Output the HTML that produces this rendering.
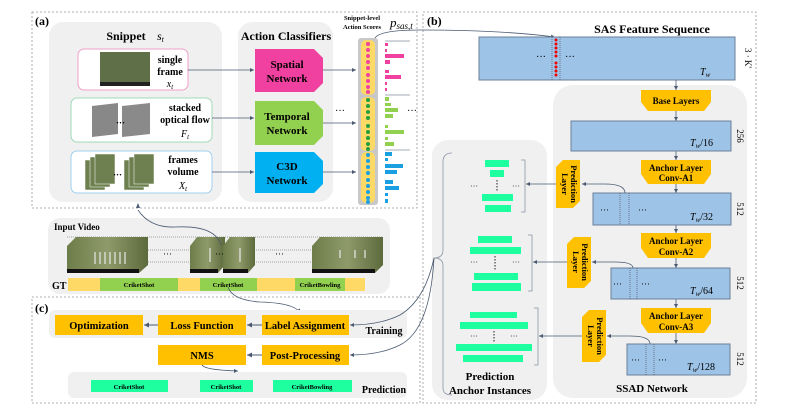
<!DOCTYPE html>
<html><head><meta charset="utf-8"><style>
html,body{margin:0;padding:0;background:#fff;}
svg{display:block;font-family:"Liberation Serif",serif;}
.b{font-weight:bold;}
</style></head><body>
<svg width="790" height="412" viewBox="0 0 790 412" xmlns="http://www.w3.org/2000/svg">
<defs>
<marker id="ar" markerWidth="6" markerHeight="6" refX="5" refY="3" orient="auto"><path d="M0,0.5 L5,3 L0,5.5 z" fill="#4a5a70"/></marker>
<linearGradient id="film" x1="0" y1="0" x2="1" y2="0"><stop offset="0" stop-color="#6d7d4a"/><stop offset="0.5" stop-color="#8f9a6a"/><stop offset="1" stop-color="#5d6a3c"/></linearGradient>
</defs>
<!-- dashed frames -->
<rect x="32" y="12" width="385" height="196" fill="none" stroke="#999" stroke-dasharray="2,2" stroke-width="0.8"/>
<rect x="423" y="12" width="333" height="391" fill="none" stroke="#999" stroke-dasharray="2,2" stroke-width="0.8"/>
<rect x="32" y="297" width="388" height="106" fill="none" stroke="#999" stroke-dasharray="2,2" stroke-width="0.8"/>
<text x="35" y="25" class="b" font-size="12">(a)</text>
<text x="427" y="25" class="b" font-size="12">(b)</text>
<text x="35" y="312" class="b" font-size="12">(c)</text>

<!-- panel a -->
<rect x="49" y="22" width="173" height="180" rx="14" fill="#f0f0f0"/>
<rect x="238" y="22" width="95" height="180" rx="14" fill="#f0f0f0"/>
<text x="126" y="40" class="b" font-size="12" text-anchor="middle">Snippet</text>
<text x="157" y="40" font-size="12" font-style="italic">s<tspan font-size="8" dy="2">t</tspan></text>
<text x="286" y="40" class="b" font-size="12" text-anchor="middle">Action Classifiers</text>

<rect x="78" y="49" width="110" height="41" rx="6" fill="#fff" stroke="#f0a0c8"/>
<rect x="100" y="52" width="50" height="34" fill="#5f7048"/><rect x="100" y="82" width="50" height="4" fill="#222"/>
<text x="170" y="63" class="b" font-size="10" text-anchor="middle">single</text>
<text x="170" y="75" class="b" font-size="10" text-anchor="middle">frame</text>
<text x="170" y="87" font-size="10" font-style="italic" text-anchor="middle">x<tspan font-size="7" dy="2">t</tspan></text>

<rect x="71" y="98" width="141" height="44" rx="6" fill="#fff" stroke="#9fd8b8"/>
<polygon points="92,106 118,103 118,134 92,137" fill="#888"/>
<polygon points="122,106 150,103 150,134 122,137" fill="#8a8a8a"/>
<text x="116" y="126" class="b" font-size="9">···</text>
<text x="185" y="111" class="b" font-size="10" text-anchor="middle">stacked</text>
<text x="185" y="123" class="b" font-size="10" text-anchor="middle">optical flow</text>
<text x="185" y="137" font-size="10" font-style="italic" text-anchor="middle">F<tspan font-size="7" dy="2">t</tspan></text>

<rect x="71" y="151" width="141" height="42" rx="6" fill="#fff" stroke="#a0d0ee"/>
<g fill="#6f8050" stroke="#fff" stroke-width="0.5">
<rect x="85" y="160" width="20" height="30"/><rect x="90" y="157" width="20" height="30"/><rect x="95" y="154" width="20" height="30"/>
<rect x="124" y="160" width="20" height="30"/><rect x="129" y="157" width="20" height="30"/><rect x="134" y="154" width="20" height="30"/></g>
<text x="113" y="178" class="b" font-size="9">···</text>
<text x="183" y="163" class="b" font-size="10" text-anchor="middle">frames</text>
<text x="183" y="175" class="b" font-size="10" text-anchor="middle">volume</text>
<text x="183" y="189" font-size="10" font-style="italic" text-anchor="middle">X<tspan font-size="7" dy="2">t</tspan></text>

<polygon points="255,49 314,49 323,58 323,83 314,92 255,92" fill="#f041a0"/>
<text x="287" y="68" class="b" font-size="11" text-anchor="middle">Spatial</text>
<text x="287" y="82" class="b" font-size="11" text-anchor="middle">Network</text>
<polygon points="255,101 314,101 323,110 323,136 314,145 255,145" fill="#92d050"/>
<text x="287" y="120" class="b" font-size="11" text-anchor="middle">Temporal</text>
<text x="287" y="134" class="b" font-size="11" text-anchor="middle">Network</text>
<polygon points="255,152 314,152 323,161 323,184 314,193 255,193" fill="#00b0f0"/>
<text x="287" y="170" class="b" font-size="11" text-anchor="middle">C3D</text>
<text x="287" y="184" class="b" font-size="11" text-anchor="middle">Network</text>

<g stroke="#4a5a70" stroke-width="0.8" marker-end="url(#ar)" fill="none">
<line x1="188" y1="70" x2="254" y2="70"/><line x1="212" y1="118" x2="254" y2="118"/><line x1="212" y1="172" x2="254" y2="172"/>
<line x1="323" y1="70" x2="356" y2="70"/><line x1="323" y1="123" x2="356" y2="123"/><line x1="323" y1="172" x2="356" y2="172"/>
</g>
<text x="335" y="114" font-size="10">···</text>
<text x="407" y="114" font-size="10">···</text>

<text x="362" y="20" class="b" font-size="6.5" text-anchor="middle">Snippet-level</text>
<text x="362" y="29" class="b" font-size="6.5" text-anchor="middle">Action Scores</text>
<text x="390" y="27" font-size="13" font-style="italic">p<tspan font-size="9" dy="2">sas,t</tspan></text>

<rect x="358" y="38" width="20" height="167" rx="3" fill="#c8c8c8"/>
<rect x="361" y="40" width="14" height="55" rx="5" fill="#ffd966"/>
<rect x="361" y="97" width="14" height="54" rx="5" fill="#ffd966"/>
<rect x="361" y="152" width="14" height="51" rx="5" fill="#ffd966"/>
<g fill="#f041a0"><circle cx="368" cy="44" r="2"/><circle cx="368" cy="50" r="2"/><circle cx="368" cy="56" r="2"/><circle cx="368" cy="62" r="2"/><circle cx="368" cy="68" r="2"/><circle cx="368" cy="75" r="2"/><circle cx="368" cy="81" r="2"/><circle cx="368" cy="87" r="2"/><circle cx="368" cy="92" r="2"/></g>
<g fill="#22a040"><circle cx="368" cy="100" r="2"/><circle cx="368" cy="106" r="2"/><circle cx="368" cy="112" r="2"/><circle cx="368" cy="118" r="2"/><circle cx="368" cy="126" r="2"/><circle cx="368" cy="132" r="2"/><circle cx="368" cy="138" r="2"/><circle cx="368" cy="144" r="2"/><circle cx="368" cy="149" r="2"/></g>
<g fill="#1a9fe0"><circle cx="368" cy="155" r="2"/><circle cx="368" cy="161" r="2"/><circle cx="368" cy="167" r="2"/><circle cx="368" cy="173" r="2"/><circle cx="368" cy="180" r="2"/><circle cx="368" cy="186" r="2"/><circle cx="368" cy="192" r="2"/><circle cx="368" cy="198" r="2"/><circle cx="368" cy="202" r="2"/></g>
<g stroke="#4a5a70" stroke-width="0.6"><line x1="385" y1="41" x2="410" y2="41"/><line x1="385" y1="95" x2="410" y2="95"/><line x1="385" y1="150" x2="410" y2="150"/></g>
<g fill="#f041a0"><rect x="385" y="43" width="3" height="3"/><rect x="385" y="49" width="2" height="3"/><rect x="385" y="54" width="19" height="4"/><rect x="385" y="60" width="5" height="4"/><rect x="385" y="70" width="4" height="3"/><rect x="385" y="75" width="16" height="4"/><rect x="385" y="82" width="2" height="3"/><rect x="385" y="88" width="2" height="3"/></g>
<g fill="#92d050"><rect x="385" y="97" width="4" height="4"/><rect x="385" y="103" width="6" height="3"/><rect x="385" y="108" width="13" height="4"/><rect x="385" y="114" width="8" height="4"/><rect x="385" y="125" width="3" height="3"/><rect x="385" y="130" width="19" height="4"/><rect x="385" y="137" width="3" height="3"/><rect x="385" y="142" width="9" height="4"/></g>
<g fill="#1a9fe0"><rect x="385" y="152" width="7" height="4"/><rect x="385" y="158" width="3" height="3"/><rect x="385" y="164" width="18" height="4"/><rect x="385" y="170" width="12" height="4"/><rect x="385" y="180" width="8" height="4"/><rect x="385" y="186" width="14" height="4"/><rect x="385" y="193" width="3" height="3"/><rect x="385" y="199" width="3" height="4"/></g>

<path d="M375,38 Q380,30 420,30 Q500,30 555,37" stroke="#4a5a70" stroke-width="0.8" fill="none" marker-end="url(#ar)"/>

<!-- panel b -->
<text x="652" y="33" class="b" font-size="12" text-anchor="middle">SAS Feature Sequence</text>
<rect x="479" y="37" width="256" height="43" fill="#9dc3e6" stroke="#6a7f99"/>
<line x1="552" y1="37" x2="552" y2="80" stroke="#556" stroke-dasharray="1,1" stroke-width="0.7"/>
<line x1="560" y1="37" x2="560" y2="80" stroke="#556" stroke-dasharray="1,1" stroke-width="0.7"/>
<g fill="#e00"><circle cx="556" cy="40" r="1.5"/><circle cx="556" cy="44" r="1.5"/><circle cx="556" cy="48" r="1.5"/><circle cx="556" cy="52" r="1.5"/><circle cx="556" cy="56" r="1.5"/><circle cx="556" cy="63" r="1.5"/><circle cx="556" cy="67" r="1.5"/><circle cx="556" cy="71" r="1.5"/><circle cx="556" cy="75" r="1.5"/></g>
<text x="536" y="60" font-size="10">···</text><text x="565" y="60" font-size="10">···</text>
<text x="700" y="75" font-size="10" font-style="italic">T<tspan font-size="7" dy="2">w</tspan></text>
<text x="745" y="58" font-size="9" transform="rotate(90 745 58)" text-anchor="middle">3 · K'</text>

<rect x="553" y="85" width="194" height="313" rx="20" fill="#f0f0f0"/>
<rect x="432" y="140" width="115" height="260" rx="16" fill="#f0f0f0"/>

<g stroke="#4a5a70" stroke-width="0.8" marker-end="url(#ar)">
<line x1="676" y1="80" x2="676" y2="90"/><line x1="676" y1="111" x2="676" y2="121"/><line x1="676" y1="151" x2="676" y2="160"/>
<line x1="676" y1="184" x2="676" y2="193"/><line x1="676" y1="225" x2="676" y2="233"/><line x1="676" y1="258" x2="676" y2="268"/>
<line x1="676" y1="299" x2="676" y2="308"/><line x1="676" y1="333" x2="676" y2="344"/>
</g>
<g fill="#ffc000">
<polygon points="641,90 711,90 711,102 704,111 648,111 641,102"/>
<polygon points="641,160 711,160 711,174 704,184 648,184 641,174"/>
<polygon points="641,233 711,233 711,248 704,258 648,258 641,248"/>
<polygon points="641,308 711,308 711,323 704,333 648,333 641,323"/>
</g>
<text x="676" y="104" class="b" font-size="9" text-anchor="middle">Base Layers</text>
<text x="676" y="171" class="b" font-size="9" text-anchor="middle">Anchor Layer</text><text x="676" y="181" class="b" font-size="9" text-anchor="middle">Conv-A1</text>
<text x="676" y="244" class="b" font-size="9" text-anchor="middle">Anchor Layer</text><text x="676" y="255" class="b" font-size="9" text-anchor="middle">Conv-A2</text>
<text x="676" y="319" class="b" font-size="9" text-anchor="middle">Anchor Layer</text><text x="676" y="330" class="b" font-size="9" text-anchor="middle">Conv-A3</text>

<g fill="#9dc3e6" stroke="#6a7f99">
<rect x="571" y="121" width="160" height="30"/>
<rect x="593" y="193" width="138" height="32"/>
<rect x="611" y="268" width="119" height="31"/>
<rect x="627" y="344" width="103" height="31"/>
</g>
<g stroke="#556" stroke-dasharray="1,1" stroke-width="0.7">
<line x1="620" y1="193" x2="620" y2="225"/><line x1="629" y1="193" x2="629" y2="225"/>
<line x1="630" y1="268" x2="630" y2="299"/><line x1="637" y1="268" x2="637" y2="299"/>
<line x1="646" y1="344" x2="646" y2="375"/><line x1="654" y1="344" x2="654" y2="375"/>
</g>
<text x="600" y="213" font-size="9">···</text><text x="638" y="213" font-size="9">···</text>
<text x="613" y="287" font-size="9">···</text><text x="641" y="287" font-size="9">···</text>
<text x="631" y="363" font-size="9">···</text><text x="658" y="363" font-size="9">···</text>
<text x="690" y="146" font-size="10" font-style="italic">T<tspan font-size="7" dy="2">w</tspan><tspan dy="-2" font-style="normal">/16</tspan></text>
<text x="690" y="220" font-size="10" font-style="italic">T<tspan font-size="7" dy="2">w</tspan><tspan dy="-2" font-style="normal">/32</tspan></text>
<text x="690" y="294" font-size="10" font-style="italic">T<tspan font-size="7" dy="2">w</tspan><tspan dy="-2" font-style="normal">/64</tspan></text>
<text x="687" y="370" font-size="10" font-style="italic">T<tspan font-size="7" dy="2">w</tspan><tspan dy="-2" font-style="normal">/128</tspan></text>
<g font-size="9"><text x="737" y="136" transform="rotate(90 737 136)" text-anchor="middle">256</text>
<text x="737" y="209" transform="rotate(90 737 209)" text-anchor="middle">512</text>
<text x="737" y="283" transform="rotate(90 737 283)" text-anchor="middle">512</text>
<text x="737" y="359" transform="rotate(90 737 359)" text-anchor="middle">512</text></g>
<text x="652" y="392" class="b" font-size="11" text-anchor="middle">SSAD Network</text>

<g fill="#ffc000">
<polygon points="563,160 580,160 580,201 573,208 556,208 556,167"/>
<polygon points="574,237 591,237 591,281 584,288 567,288 567,244"/>
<polygon points="589,310 606,310 606,355 599,362 582,362 582,317"/>
</g>
<g class="b" font-size="8.5" text-anchor="middle">
<text transform="translate(571,184) rotate(90)">Prediction</text><text transform="translate(562,184) rotate(90)">Layer</text>
<text transform="translate(582,262) rotate(90)">Prediction</text><text transform="translate(573,262) rotate(90)">Layer</text>
<text transform="translate(597,336) rotate(90)">Prediction</text><text transform="translate(588,336) rotate(90)">Layer</text>
</g>
<g stroke="#4a5a70" stroke-width="0.8" fill="none" marker-end="url(#ar)">
<path d="M625,193 Q625,184 605,184 L582,184"/><line x1="556" y1="184" x2="526" y2="184"/>
<path d="M633,268 Q633,262 615,262 L592,262"/><line x1="567" y1="262" x2="533" y2="262"/>
<path d="M650,344 Q650,336 630,336 L607,336"/><line x1="582" y1="336" x2="539" y2="336"/>
</g>
<g fill="#1effa0">
<rect x="485" y="160" width="24" height="7"/><rect x="490" y="170" width="14" height="7"/><rect x="482" y="194" width="31" height="7"/><rect x="485" y="205" width="26" height="7"/>
<rect x="478" y="236" width="34" height="7"/><rect x="470" y="247" width="51" height="7"/><rect x="474" y="273" width="44" height="7"/><rect x="472" y="283" width="49" height="8"/>
<rect x="470" y="312" width="47" height="6"/><rect x="460" y="322" width="68" height="7"/><rect x="456" y="344" width="76" height="7"/><rect x="463" y="355" width="60" height="7"/>
</g>
<g font-size="8" fill="#222"><text x="470" y="189">···</text><text x="512" y="189">···</text><text x="470" y="265">···</text><text x="512" y="265">···</text><text x="470" y="339">···</text><text x="510" y="339">···</text></g>
<g stroke="#222" stroke-dasharray="1.5,1.5" stroke-width="1"><line x1="497" y1="180" x2="497" y2="192"/><line x1="495" y1="256" x2="495" y2="271"/><line x1="494" y1="331" x2="494" y2="342"/></g>
<g stroke="#8a95a5" fill="none" stroke-width="0.8">
<path d="M521,160 L525,160 L525,212 L521,212"/><path d="M528,235 L532,235 L532,291 L528,291"/><path d="M534,308 L538,308 L538,365 L534,365"/>
<path d="M452,153 Q443,153 443,162 L443,250 Q443,258 434,258 Q443,258 443,266 L443,388 Q443,395 452,395"/>
</g>
<text x="490" y="380" class="b" font-size="11" text-anchor="middle">Prediction</text>
<text x="490" y="394" class="b" font-size="11" text-anchor="middle">Anchor Instances</text>

<!-- input video -->
<rect x="48" y="218" width="342" height="76" rx="12" fill="#f0f0f0"/>
<text x="54" y="230" class="b" font-size="9">Input Video</text>
<g stroke="#888" stroke-dasharray="1,1" stroke-width="0.7"><line x1="67" y1="237" x2="383" y2="237"/><line x1="148" y1="250" x2="312" y2="250"/><line x1="148" y1="262" x2="312" y2="262"/></g>
<g fill="url(#film)">
<polygon points="67,246 76,237 148,237 148,265 139,273 67,273"/>
<polygon points="190,246 197,237 225,237 225,265 218,273 190,273"/>
<polygon points="223,246 230,237 255,237 255,265 248,273 223,273"/>
<polygon points="312,246 320,237 383,237 383,265 375,273 312,273"/>
</g>
<g fill="#111"><rect x="67" y="269" width="72" height="4"/><rect x="190" y="269" width="28" height="4"/><rect x="223" y="269" width="25" height="4"/><rect x="312" y="269" width="63" height="4"/></g>
<g stroke="#e8e8e8" stroke-width="1.2"><line x1="95" y1="252" x2="95" y2="264"/><line x1="100" y1="252" x2="100" y2="264"/><line x1="105" y1="252" x2="105" y2="264"/><line x1="110" y1="252" x2="110" y2="264"/><line x1="115" y1="252" x2="115" y2="264"/><line x1="120" y1="252" x2="120" y2="264"/><line x1="125" y1="252" x2="125" y2="264"/><line x1="210" y1="248" x2="210" y2="262"/><line x1="240" y1="248" x2="240" y2="262"/><line x1="340" y1="250" x2="340" y2="258"/><line x1="355" y1="250" x2="355" y2="258"/><line x1="365" y1="250" x2="365" y2="258"/></g>
<text x="163" y="257" font-size="9">···</text><text x="275" y="257" font-size="9">···</text><text x="215" y="257" font-size="9">···</text>
<text x="52" y="289" class="b" font-size="10">GT</text>
<rect x="68" y="278" width="297" height="13" fill="#ffd966"/>
<g fill="#92d050"><rect x="100" y="278" width="78" height="13"/><rect x="200" y="278" width="57" height="13"/><rect x="295" y="278" width="50" height="13"/></g>
<g class="b" font-size="6.5" text-anchor="middle"><text x="139" y="287">CriketShot</text><text x="228" y="287">CriketShot</text><text x="320" y="287">CriketBowling</text></g>
<path d="M138,210 Q150,228 175,227 Q215,225 221,245" stroke="#4a5a70" stroke-width="0.8" fill="none"/>
<path d="M136,208 L138,203 L140,208 z" fill="#4a5a70"/>
<path d="M228,287 Q232,300 260,302 Q295,303 300,313" stroke="#4a5a70" stroke-width="0.8" fill="none" marker-end="url(#ar)"/>

<!-- panel c -->
<rect x="49" y="310" width="358" height="28" rx="6" fill="#f0f0f0"/>
<rect x="68" y="372" width="339" height="26" rx="6" fill="#f0f0f0"/>
<g fill="#ffc000"><rect x="55" y="315" width="88" height="20"/><rect x="158" y="315" width="88" height="20"/><rect x="262" y="315" width="87" height="20"/><rect x="158" y="345" width="88" height="20"/><rect x="262" y="345" width="87" height="20"/></g>
<g class="b" font-size="10.5" text-anchor="middle"><text x="99" y="329">Optimization</text><text x="202" y="329">Loss Function</text><text x="305" y="329">Label Assignment</text><text x="202" y="359">NMS</text><text x="305" y="359">Post-Processing</text></g>
<text x="384" y="334" class="b" font-size="10" text-anchor="middle">Training</text>
<text x="384" y="393" class="b" font-size="10" text-anchor="middle">Prediction</text>
<g stroke="#4a5a70" stroke-width="1" marker-end="url(#ar)"><line x1="158" y1="325" x2="144" y2="325"/><line x1="262" y1="325" x2="247" y2="325"/><line x1="262" y1="355" x2="247" y2="355"/></g>
<path d="M202,365 Q205,370 238,371" stroke="#4a5a70" stroke-width="0.8" fill="none" marker-end="url(#ar)"/>
<path d="M434,258 Q425,300 400,315 Q380,325 350,325" stroke="#4a5a70" stroke-width="0.8" fill="none" marker-end="url(#ar)"/>
<path d="M434,258 Q430,330 400,345 Q380,355 350,355" stroke="#4a5a70" stroke-width="0.8" fill="none" marker-end="url(#ar)"/>
<g fill="#1effa0"><rect x="91" y="380" width="77" height="12"/><rect x="200" y="380" width="53" height="12"/><rect x="273" y="380" width="79" height="12"/></g>
<g class="b" font-size="6.5" text-anchor="middle"><text x="129" y="389">CriketShot</text><text x="226" y="389">CriketShot</text><text x="312" y="389">CriketBowling</text></g>
</svg>
</body></html>
